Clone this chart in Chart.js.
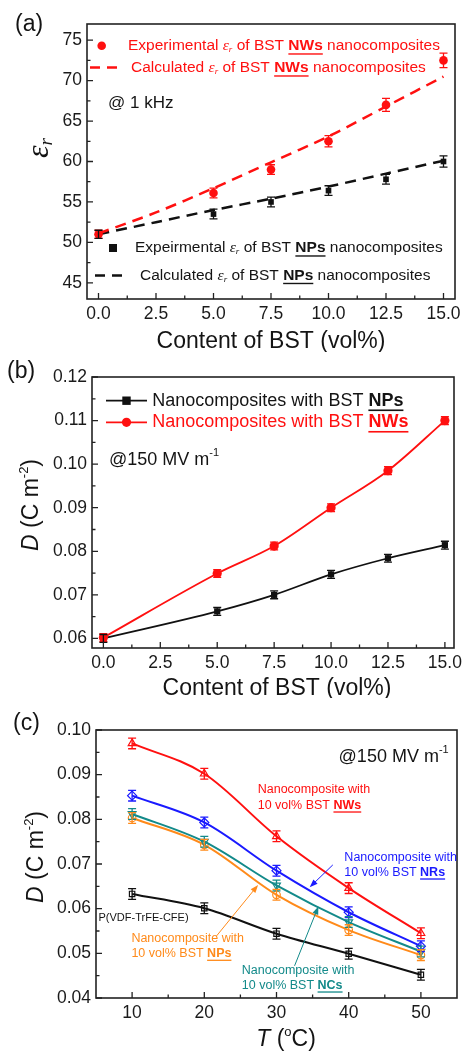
<!DOCTYPE html>
<html>
<head>
<meta charset="utf-8">
<script src="https://cdn.jsdelivr.net/npm/chart.js@4.4.0/dist/chart.umd.min.js"></script>
<style>
  body { margin: 0; background: #fff; width: 464px; height: 1052px; position: relative; overflow: hidden; }
  canvas { position: absolute; left: 0; }
</style>
</head>
<body>
<canvas id="chartA" width="464" height="352" style="top:0px"></canvas>
<canvas id="chartB" width="464" height="346" style="top:352px"></canvas>
<canvas id="chartC" width="464" height="354" style="top:698px"></canvas>
<script>
// (a) permittivity at 1 kHz vs BST content
const contentBST = [0, 5, 7.5, 10, 12.5, 15];
const epsNWs = [51.0, 56.1, 59.0, 62.5, 67.0, 72.5];
const epsNWsErr = [0.5, 0.6, 0.6, 0.7, 0.8, 0.9];
const epsNPs = [51.0, 53.5, 55.0, 56.4, 57.8, 60.0];
const epsNPsErr = [0.5, 0.6, 0.6, 0.6, 0.6, 0.7];
const contentCalc = [0, 2.5, 5, 7.5, 10, 12.5, 15];
const epsNWsCalc = [51.1, 53.7, 56.7, 59.9, 63.1, 66.8, 70.5];
const epsNPsCalc = [51.0, 52.5, 54.0, 55.4, 56.9, 58.5, 60.1];

// (b) displacement at 150 MV/m vs BST content
const dispNPs = [0.0600, 0.0662, 0.0700, 0.0747, 0.0784, 0.0814];
const dispNPsErr = [0.0009, 0.0009, 0.0009, 0.0009, 0.0009, 0.0009];
const dispNWs = [0.0602, 0.0749, 0.0812, 0.0900, 0.0985, 0.1100];
const dispNWsErr = [0.0009, 0.0009, 0.0009, 0.0009, 0.0009, 0.0009];

// (c) displacement vs temperature
const temps = [10, 20, 30, 40, 50];
const dTempNWs = [0.0970, 0.0902, 0.0762, 0.0646, 0.0545];
const dTempNRs = [0.0853, 0.0793, 0.0685, 0.0592, 0.0516];
const dTempNCs = [0.0812, 0.0750, 0.0652, 0.0570, 0.0504];
const dTempNPs = [0.0803, 0.0743, 0.0631, 0.0552, 0.0496];
const dTempPolymer = [0.0633, 0.0601, 0.0544, 0.0499, 0.0452];
const dTempErr = [0.0012, 0.0012, 0.0012, 0.0012, 0.0012];

// tick values
const tickContent = [0, 2.5, 5, 7.5, 10, 12.5, 15];
const tickEps = [45, 50, 55, 60, 65, 70, 75];
const tickDispB = [0.06, 0.07, 0.08, 0.09, 0.10, 0.11, 0.12];
const tickTemp = [10, 20, 30, 40, 50];
const tickDispC = [0.04, 0.05, 0.06, 0.07, 0.08, 0.09, 0.10];

const SANS = '"Liberation Sans", Arial, sans-serif';
const SERIF = '"Liberation Serif", "Times New Roman", serif';
const RED = '#ff1010', BLUE = '#1a1aff', TEAL = '#138a8a', ORANGE = '#ff8a1a', INK = '#141414';

const pts = (xs, ys) => xs.map((v, i) => ({ x: v, y: ys[i] }));
const seg = (t, o) => Object.assign({ t }, o || {});

function fontOf(p, size) {
  const s = p.size || size;
  return (p.i ? 'italic ' : '') + (p.b ? 'bold ' : '') + s + 'px ' + (p.serif ? SERIF : SANS);
}

// draw a run of mixed-style text, y is the vertical middle
function rich(ctx, x, y, parts, size, color, align) {
  ctx.save();
  ctx.textBaseline = 'middle';
  ctx.textAlign = 'left';
  let total = 0;
  const widths = parts.map(p => {
    ctx.font = fontOf(p, size);
    const w = ctx.measureText(p.t).width;
    total += w;
    return w;
  });
  let cx = align === 'center' ? x - total / 2 : x;
  parts.forEach((p, k) => {
    ctx.font = fontOf(p, size);
    ctx.fillStyle = p.color || color;
    ctx.fillText(p.t, cx, y + (p.dy || 0));
    if (p.u) ctx.fillRect(cx, y + size * 0.47, widths[k], Math.max(1.3, size * 0.09));
    cx += widths[k];
  });
  ctx.restore();
}

function richVertical(ctx, x, y, parts, size, color) {
  ctx.save();
  ctx.translate(x, y);
  ctx.rotate(-Math.PI / 2);
  rich(ctx, 0, 0, parts, size, color, 'center');
  ctx.restore();
}

function arrow(ctx, x1, y1, x2, y2, color) {
  const ang = Math.atan2(y2 - y1, x2 - x1);
  ctx.save();
  ctx.strokeStyle = color;
  ctx.fillStyle = color;
  ctx.lineWidth = 1;
  ctx.beginPath();
  ctx.moveTo(x1, y1);
  ctx.lineTo(x2 - 5 * Math.cos(ang), y2 - 5 * Math.sin(ang));
  ctx.stroke();
  ctx.beginPath();
  ctx.moveTo(x2, y2);
  ctx.lineTo(x2 - 8 * Math.cos(ang) + 3 * Math.sin(ang), y2 - 8 * Math.sin(ang) - 3 * Math.cos(ang));
  ctx.lineTo(x2 - 8 * Math.cos(ang) - 3 * Math.sin(ang), y2 - 8 * Math.sin(ang) + 3 * Math.cos(ang));
  ctx.closePath();
  ctx.fill();
  ctx.restore();
}

// frame, inward major/minor ticks and error bars
const decor = {
  id: 'decor',
  afterDatasetsDraw(chart) {
    const ctx = chart.ctx;
    const ys = chart.scales.y;
    chart.data.datasets.forEach((ds, i) => {
      if (!ds.errors) return;
      const meta = chart.getDatasetMeta(i);
      ctx.save();
      ctx.strokeStyle = ds.borderColor;
      ctx.lineWidth = 1.3;
      meta.data.forEach((pt, j) => {
        const v = ds.data[j].y, e = ds.errors[j];
        const lo = ys.getPixelForValue(v - e), hi = ys.getPixelForValue(v + e);
        ctx.beginPath();
        ctx.moveTo(pt.x, lo); ctx.lineTo(pt.x, hi);
        ctx.moveTo(pt.x - 4, lo); ctx.lineTo(pt.x + 4, lo);
        ctx.moveTo(pt.x - 4, hi); ctx.lineTo(pt.x + 4, hi);
        ctx.stroke();
      });
      ctx.restore();
    });
  },
  afterDraw(chart) {
    const { ctx, chartArea: a, scales: { x, y } } = chart;
    ctx.save();
    ctx.strokeStyle = '#222';
    ctx.lineWidth = 1.6;
    ctx.strokeRect(a.left, a.top, a.right - a.left, a.bottom - a.top);
    ctx.lineWidth = 1.3;
    const marks = scale => {
      const major = scale.ticks.map(t => t.value);
      const step = major[1] - major[0];
      const minor = [major[0] - step / 2].concat(major.map(v => v + step / 2))
        .filter(v => v > scale.min + 1e-9 && v < scale.max - 1e-9);
      return { major, minor };
    };
    const mx = marks(x), my = marks(y);
    ctx.beginPath();
    mx.major.forEach(v => { const p = x.getPixelForValue(v); ctx.moveTo(p, a.bottom); ctx.lineTo(p, a.bottom - 6); });
    mx.minor.forEach(v => { const p = x.getPixelForValue(v); ctx.moveTo(p, a.bottom); ctx.lineTo(p, a.bottom - 3.5); });
    my.major.forEach(v => { const p = y.getPixelForValue(v); ctx.moveTo(a.left, p); ctx.lineTo(a.left + 6, p); });
    my.minor.forEach(v => { const p = y.getPixelForValue(v); ctx.moveTo(a.left, p); ctx.lineTo(a.left + 3.5, p); });
    ctx.stroke();
    ctx.restore();
  }
};

function xAxis(min, max, values, digits, height) {
  return {
    type: 'linear', min, max,
    grid: { display: false, drawTicks: false }, border: { display: false },
    ticks: { padding: 5, color: '#1a1a1a', maxRotation: 0, autoSkip: false,
      font: { family: SANS, size: 17.5 }, callback: v => v.toFixed(digits) },
    afterBuildTicks: s => { s.ticks = values.map(v => ({ value: v })); },
    afterFit: s => { s.height = height; s.paddingLeft = 0; s.paddingRight = 0; }
  };
}
function yAxis(min, max, values, digits, width) {
  return {
    type: 'linear', min, max,
    grid: { display: false, drawTicks: false }, border: { display: false },
    ticks: { padding: 5, color: '#1a1a1a', autoSkip: false,
      font: { family: SANS, size: 17.5 }, callback: v => v.toFixed(digits) },
    afterBuildTicks: s => { s.ticks = values.map(v => ({ value: v })); },
    afterFit: s => { s.width = width; s.paddingTop = 0; s.paddingBottom = 0; }
  };
}
function baseOptions(scales, padding) {
  return {
    responsive: false, animation: false, devicePixelRatio: 1,
    layout: { padding },
    plugins: { legend: { display: false }, tooltip: { enabled: false } },
    scales
  };
}

const epsSym = sz => [seg('ε', { serif: true, i: true }), seg('r', { serif: true, i: true, size: sz, dy: 4 })];

// ---------- (a) ----------
new Chart(document.getElementById('chartA'), {
  type: 'line',
  data: {
    datasets: [
      { data: pts(contentBST, epsNWs), errors: epsNWsErr, showLine: false, borderColor: RED, backgroundColor: RED,
        pointStyle: 'circle', pointRadius: 4.3, pointBorderWidth: 0 },
      { data: pts(contentCalc, epsNWsCalc), borderColor: RED, borderWidth: 2.5, borderDash: [11, 7], pointRadius: 0, tension: 0.3 },
      { data: pts(contentBST, epsNPs), errors: epsNPsErr, showLine: false, borderColor: '#111', backgroundColor: '#111',
        pointStyle: 'rect', pointRadius: 4, pointBorderWidth: 0 },
      { data: pts(contentCalc, epsNPsCalc), borderColor: '#111', borderWidth: 2.5, borderDash: [11, 7], pointRadius: 0, tension: 0.3 }
    ]
  },
  options: baseOptions({ x: xAxis(-0.5, 15.5, tickContent, 1, 53), y: yAxis(43, 77, tickEps, 0, 87) },
    { top: 24, right: 9, left: 0, bottom: 0 }),
  plugins: [decor, {
    id: 'textA',
    afterDraw(chart) {
      const ctx = chart.ctx, a = chart.chartArea;
      rich(ctx, 15, 25, [seg('(a)')], 23, INK);
      richVertical(ctx, 40, 148, [seg('ε', { serif: true, i: true }), seg('r', { serif: true, i: true, size: 19, dy: 7 })], 32, INK);
      rich(ctx, (a.left + a.right) / 2, 342, [seg('Content of BST (vol%)')], 23, INK, 'center');
      rich(ctx, 108, 103, [seg('@ 1 kHz')], 17, INK);
      // legend
      ctx.save();
      ctx.fillStyle = RED;
      ctx.beginPath(); ctx.arc(101.7, 45.7, 4.3, 0, Math.PI * 2); ctx.fill();
      ctx.strokeStyle = RED; ctx.lineWidth = 2.5; ctx.setLineDash([10, 7]);
      ctx.beginPath(); ctx.moveTo(90, 67.5); ctx.lineTo(121, 67.5); ctx.stroke();
      ctx.fillStyle = '#111';
      ctx.fillRect(109, 244, 8, 8);
      ctx.strokeStyle = '#111';
      ctx.beginPath(); ctx.moveTo(95, 275.5); ctx.lineTo(125, 275.5); ctx.stroke();
      ctx.restore();
      rich(ctx, 128, 46, [seg('Experimental ')].concat(epsSym(9), [seg(' of BST '), seg('NWs', { b: true, u: true }), seg(' nanocomposites')]), 15.5, RED);
      rich(ctx, 131, 68, [seg('Calculated ')].concat(epsSym(9), [seg(' of BST '), seg('NWs', { b: true, u: true }), seg(' nanocomposites')]), 15.5, RED);
      rich(ctx, 135, 248, [seg('Expeirmental ')].concat(epsSym(9), [seg(' of BST '), seg('NPs', { b: true, u: true }), seg(' nanocomposites')]), 15.5, INK);
      rich(ctx, 140, 275.5, [seg('Calculated ')].concat(epsSym(9), [seg(' of BST '), seg('NPs', { b: true, u: true }), seg(' nanocomposites')]), 15.5, INK);
    }
  }]
});

// ---------- (b) ----------
new Chart(document.getElementById('chartB'), {
  type: 'line',
  data: {
    datasets: [
      { data: pts(contentBST, dispNWs), errors: dispNWsErr, borderColor: RED, backgroundColor: RED, borderWidth: 1.8,
        pointStyle: 'circle', pointRadius: 4.6, pointBorderWidth: 0, cubicInterpolationMode: 'monotone' },
      { data: pts(contentBST, dispNPs), errors: dispNPsErr, borderColor: '#111', backgroundColor: '#111', borderWidth: 1.8,
        pointStyle: 'rect', pointRadius: 4.4, pointBorderWidth: 0, cubicInterpolationMode: 'monotone' }
    ]
  },
  options: baseOptions({ x: xAxis(-0.5, 15.4, tickContent, 1, 50), y: yAxis(0.0578, 0.12, tickDispB, 2, 92) },
    { top: 25, right: 10, left: 0, bottom: 0 }),
  plugins: [decor, {
    id: 'textB',
    afterDraw(chart) {
      const ctx = chart.ctx, a = chart.chartArea;
      rich(ctx, 7, 20, [seg('(b)')], 23, INK);
      richVertical(ctx, 32, 153, [seg('D', { i: true }), seg(' (C m'), seg('-2', { size: 13, dy: -8 }), seg(')')], 23, INK);
      rich(ctx, (a.left + a.right) / 2 + 4, 337, [seg('Content of BST (vol%)')], 23, INK, 'center');
      rich(ctx, 109, 108, [seg('@150 MV m'), seg('-1', { size: 11, dy: -7 })], 18, INK);
      ctx.save();
      ctx.lineWidth = 1.8;
      ctx.strokeStyle = '#111'; ctx.fillStyle = '#111';
      ctx.beginPath(); ctx.moveTo(106, 48.7); ctx.lineTo(147, 48.7); ctx.stroke();
      ctx.fillRect(122.3, 44.5, 8.4, 8.4);
      ctx.strokeStyle = RED; ctx.fillStyle = RED;
      ctx.beginPath(); ctx.moveTo(106, 70.3); ctx.lineTo(147, 70.3); ctx.stroke();
      ctx.beginPath(); ctx.arc(126.5, 70.3, 4.6, 0, Math.PI * 2); ctx.fill();
      ctx.restore();
      rich(ctx, 152.3, 49, [seg('Nanocomposites with BST '), seg('NPs', { b: true, u: true })], 18, INK);
      rich(ctx, 152.3, 70.5, [seg('Nanocomposites with BST '), seg('NWs', { b: true, u: true })], 18, RED);
    }
  }]
});

// ---------- (c) ----------
const noteLabels = [
  { x: 27.4, y: 0.0866, y2: 0.0831, kind: 'NWs', color: RED },
  { x: 39.4, y: 0.0715, y2: 0.0681, kind: 'NRs', color: BLUE },
  { x: 9.9, y: 0.0534, y2: 0.0499, kind: 'NPs', color: ORANGE },
  { x: 25.2, y: 0.0462, y2: 0.0428, kind: 'NCs', color: TEAL }
];
const noteArrows = [
  { from: [37.8, 0.0698], to: [34.6, 0.0648], color: BLUE },
  { from: [21.7, 0.0539], to: [27.45, 0.0653], color: ORANGE },
  { from: [32.5, 0.0472], to: [35.8, 0.0605], color: TEAL }
];

const openSeries = (ys, color, style, rot, r) => ({
  data: pts(temps, ys), errors: dTempErr, borderColor: color, backgroundColor: 'rgba(0,0,0,0)',
  borderWidth: 2, pointStyle: style, pointRotation: rot, pointRadius: r, pointBorderWidth: 1.2,
  pointBorderColor: color, cubicInterpolationMode: 'monotone'
});

new Chart(document.getElementById('chartC'), {
  type: 'line',
  data: {
    datasets: [
      openSeries(dTempNWs, RED, 'triangle', 0, 4.5),
      openSeries(dTempNRs, BLUE, 'rectRot', 0, 4.5),
      openSeries(dTempNCs, TEAL, 'triangle', 180, 4.5),
      openSeries(dTempNPs, ORANGE, 'circle', 0, 3.8),
      openSeries(dTempPolymer, '#111', 'rect', 0, 3.8)
    ]
  },
  options: baseOptions({ x: xAxis(5, 55, tickTemp, 0, 54), y: yAxis(0.04, 0.10, tickDispC, 2, 96) },
    { top: 32, right: 7, left: 0, bottom: 0 }),
  plugins: [decor, {
    id: 'textC',
    afterDraw(chart) {
      const ctx = chart.ctx;
      const { x, y } = chart.scales;
      rich(ctx, 13, 26, [seg('(c)')], 23, INK);
      richVertical(ctx, 37, 159, [seg('D', { i: true }), seg(' (C m'), seg('-2', { size: 13, dy: -8 }), seg(')')], 23, INK);
      rich(ctx, 286, 342, [seg('T', { i: true }), seg(' ('), seg('o', { size: 13, dy: -8 }), seg('C)')], 23, INK, 'center');
      rich(ctx, x.getPixelForValue(38.6), y.getPixelForValue(0.0940), [seg('@150 MV m'), seg('-1', { size: 11, dy: -7 })], 18, INK);
      rich(ctx, x.getPixelForValue(5.35), y.getPixelForValue(0.0579), [seg('P(VDF-TrFE-CFE)')], 11, INK);
      noteLabels.forEach(n => {
        const px = x.getPixelForValue(n.x);
        rich(ctx, px, y.getPixelForValue(n.y), [seg('Nanocomposite with')], 12.5, n.color);
        rich(ctx, px, y.getPixelForValue(n.y2), [seg('10 vol% BST '), seg(n.kind, { b: true, u: true })], 12.5, n.color);
      });
      noteArrows.forEach(r => arrow(ctx,
        x.getPixelForValue(r.from[0]), y.getPixelForValue(r.from[1]),
        x.getPixelForValue(r.to[0]), y.getPixelForValue(r.to[1]), r.color));
    }
  }]
});
</script>
</body>
</html>
